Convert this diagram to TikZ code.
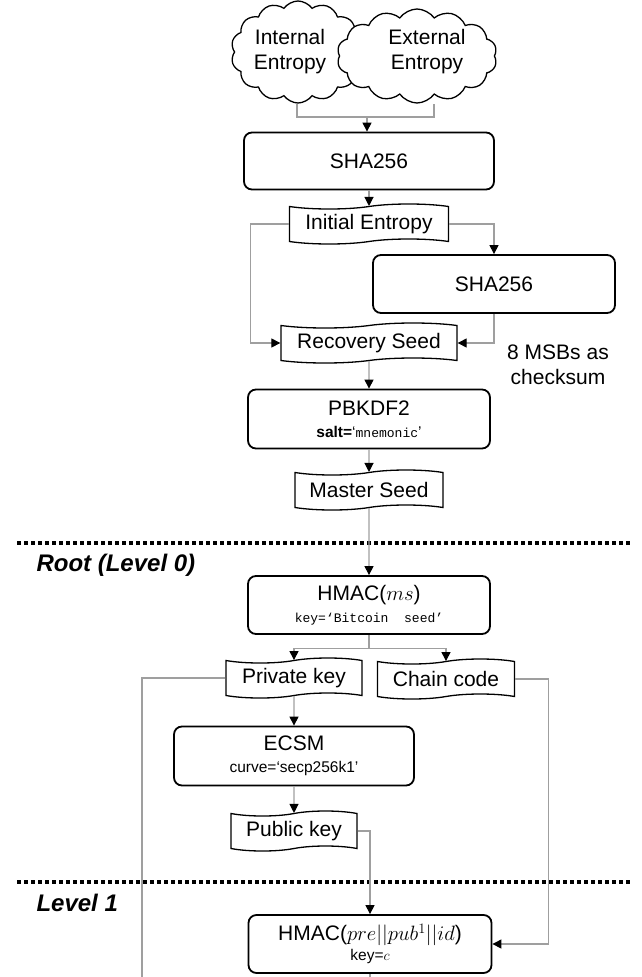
\documentclass[tikz,border=0pt]{standalone}
\usepackage{fontspec}
\setmainfont{Liberation Sans}
\setmonofont{Liberation Mono}[Scale=0.84]
\usetikzlibrary{positioning, shapes.symbols, arrows.meta, calc}
\newcommand{\smalltxt}{\fontsize{15.5}{17}\selectfont}

\begin{document}
\begin{tikzpicture}[x=1pt, y=-1pt, font=\fontsize{21}{25}\selectfont,
  proc/.style={draw=black, line width=1.8pt, rounded corners=8pt, fill=white, minimum width=242pt, minimum height=58pt, align=center},
  data/.style={tape, draw=black, line width=1.3pt, fill=white, tape bend height=5pt, minimum height=40pt, inner sep=2pt},
  src/.style={cloud, cloud puffs=14, cloud puff arc=110, cloud ignores aspect, draw=black, line width=1.3pt, fill=white, inner sep=0pt},
  arr/.style={-{Triangle[length=9pt, width=9pt, color=black]}, line width=1.1pt, draw=gray!75},
  ln/.style={line width=1.1pt, draw=gray!75},
  sep/.style={line width=3.5pt, dash pattern=on 3.5pt off 3.5pt},
  lvl/.style={font=\fontsize{24}{28}\selectfont\bfseries\itshape, anchor=west}
]
  \useasboundingbox (0,0) rectangle (641,977);

  \node[src, minimum width=134pt, minimum height=102pt] (int) at (298,52) {};
  \node[src, minimum width=160pt, minimum height=94pt] (ext) at (417,56) {};
  \node[align=center] (intlbl) at (290,52) {Internal\\Entropy};
  \node[align=center] (extlbl) at (427,52) {External\\Entropy};

  \node[proc, minimum width=250pt, minimum height=57pt] (sha1) at (369,161) {SHA256};
  \node[data, minimum width=159pt] (init) at (369,224) {Initial Entropy};
  \node[proc] (sha2) at (494,284) {SHA256};
  \node[data, minimum width=176pt] (rec) at (369,343) {Recovery Seed};
  \node[align=center] (chk) at (558,365) {8 MSBs as\\checksum};
  \node[proc, minimum height=59pt] (pbk) at (369,419) {PBKDF2\\[-3pt]{\smalltxt\textbf{salt=}‘\ttfamily mnemonic\rmfamily’}};
  \node[data, minimum width=148pt] (master) at (369,490) {Master Seed};

  \draw[sep] (17,543) -- (632,543);
  \node[lvl] (root) at (33,565) {Root (Level 0)};

  \node[proc] (hm0) at (369,605) {HMAC($ms$)\\[-3pt]{\smalltxt\ttfamily key=‘Bitcoin~~seed’}};
  \node[data, minimum width=136pt] (priv) at (294,678) {Private key};
  \node[data, minimum width=137pt] (chain) at (446,679) {Chain code};
  \node[proc, minimum width=240pt, minimum height=59pt] (ecsm) at (294,756) {ECSM\\[-3pt]{\smalltxt curve=‘secp256k1’}};
  \node[data, minimum width=126pt] (pub) at (294,831) {Public key};

  \draw[sep] (17,882) -- (632,882);
  \node[lvl] (lvl1) at (33,903) {Level 1};

  \node[proc, minimum width=243pt] (hm1) at (370,944) {HMAC($pre||pub^1||id$)\\[-5pt]{\smalltxt key=$c$}};

  \coordinate (join) at (367,117);
  \coordinate (split) at ($(hm0.south)+(0,14)$);
  \coordinate (pout) at (142,977);
  \coordinate (hout) at (370,977);

  \draw[ln] ([xshift=-1pt]int.south) |- (join) -| ([xshift=17pt]ext.south);
  \draw[arr] (join) -- (join |- sha1.north);
  \draw[arr] (sha1) -- (init);
  \draw[arr] (init.west) -- ++(-38,0) |- (rec.west);
  \draw[arr] (init.east) -| (sha2.north);
  \draw[arr] (sha2.south) |- (rec.east);
  \draw[arr] (rec) -- (pbk);
  \draw[arr] (pbk) -- (master);
  \draw[arr] (master) -- (hm0);
  \draw[ln] (hm0.south) -- (split);
  \draw[arr] (split) -| (priv.north);
  \draw[arr] (split) -| (chain.north);
  \draw[ln] (priv.west) -| (pout);
  \draw[arr] (chain.east) -- ++(33,0) |- (hm1.east);
  \draw[arr] (priv) -- (ecsm);
  \draw[arr] (ecsm) -- (pub);
  \draw[arr] (pub.east) -| (hm1.north);
  \draw[ln] (hm1.south) -- (hout);
\end{tikzpicture}
\end{document}
